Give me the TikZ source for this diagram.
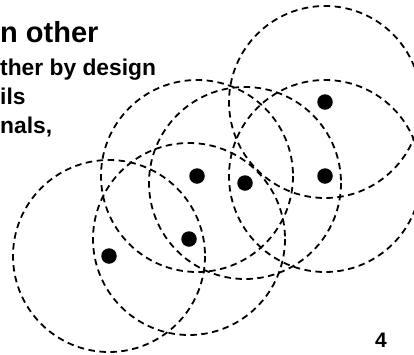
\documentclass[tikz,border=0pt]{standalone}
\usepackage{fontspec}
\setmainfont{Liberation Sans}
\begin{document}
\begin{tikzpicture}[x=1pt,y=-1pt,
  zone/.style={draw=black,dash pattern=on 6.5pt off 4.5pt,line width=1.8pt},
  sensor/.style={circle,fill=black,inner sep=0pt,minimum size=15.5pt},
  txt/.style={anchor=base west,inner sep=0pt}]
\useasboundingbox (0,0) rectangle (414,354);
\clip (0,0) rectangle (414,354);
\node[sensor] (a) at (325,102) {};
\node[sensor] (b) at (197,176) {};
\node[sensor] (c) at (245,183) {};
\node[sensor] (d) at (325,176) {};
\node[sensor] (e) at (189,239) {};
\node[sensor] (f) at (109,256) {};
\foreach \n in {a,b,c,d,e,f}{
  \draw[zone] (\n.center) circle[radius=96];
}
\node[txt,font=\fontsize{29}{34}\selectfont\bfseries] (t1) at (0,42) {n other};
\node[txt,font=\fontsize{22.8}{27}\selectfont\bfseries] (t2) at (0,75) {ther by design};
\node[txt,font=\fontsize{22.8}{27}\selectfont\bfseries] (t3) at (0,104) {ils};
\node[txt,font=\fontsize{22.8}{27}\selectfont\bfseries] (t4) at (0,133) {nals,};
\node[anchor=base,inner sep=0pt,font=\fontsize{21}{25}\selectfont\bfseries] (pg) at (381,347) {4};
\end{tikzpicture}
\end{document}
